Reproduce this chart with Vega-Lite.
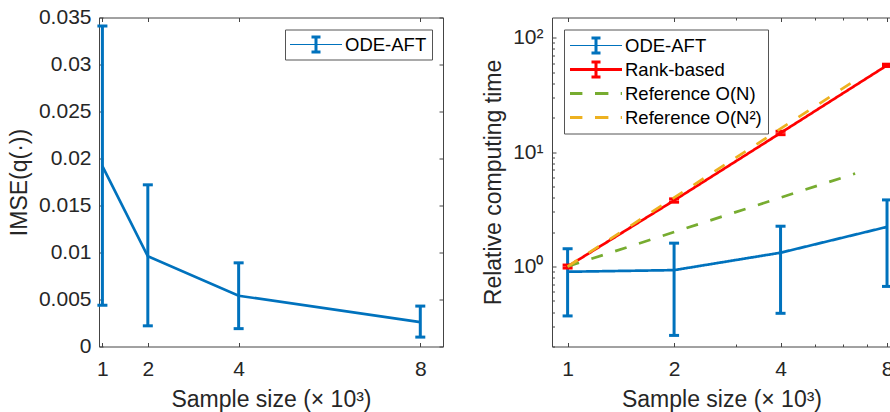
{
  "$schema": "https://vega.github.io/schema/vega-lite/v6.json",
  "padding": {"left": 8, "top": 6.5, "right": 0, "bottom": 0},
  "background": "white",
  "datasets": {
    "imse": [
      {"n": 1, "m": 0.0192, "lo": 0.0044, "hi": 0.0341, "s": "ODE-AFT"},
      {"n": 2, "m": 0.0096, "lo": 0.0022, "hi": 0.0172, "s": "ODE-AFT"},
      {"n": 4, "m": 0.0054, "lo": 0.0019, "hi": 0.0089, "s": "ODE-AFT"},
      {"n": 8, "m": 0.0026, "lo": 0.0010, "hi": 0.0043, "s": "ODE-AFT"}
    ],
    "timeErr": [
      {"n": 1, "s": "ODE-AFT", "lo": 0.37, "hi": 1.43},
      {"n": 2, "s": "ODE-AFT", "lo": 0.25, "hi": 1.60},
      {"n": 4, "s": "ODE-AFT", "lo": 0.39, "hi": 2.25},
      {"n": 8, "s": "ODE-AFT", "lo": 0.67, "hi": 3.82},
      {"n": 1, "s": "Rank-based", "lo": 0.97, "hi": 1.03},
      {"n": 2, "s": "Rank-based", "lo": 3.65, "hi": 3.9},
      {"n": 4, "s": "Rank-based", "lo": 14.2, "hi": 15.2},
      {"n": 8, "s": "Rank-based", "lo": 56.0, "hi": 58.6}
    ],
    "timeLines": [
      {"n": 1, "t": 0.90, "s": "ODE-AFT"},
      {"n": 2, "t": 0.93, "s": "ODE-AFT"},
      {"n": 4, "t": 1.32, "s": "ODE-AFT"},
      {"n": 8, "t": 2.22, "s": "ODE-AFT"},
      {"n": 1, "t": 1.0, "s": "Rank-based"},
      {"n": 2, "t": 3.78, "s": "Rank-based"},
      {"n": 4, "t": 14.7, "s": "Rank-based"},
      {"n": 8, "t": 57.3, "s": "Rank-based"},
      {"n": 1, "t": 1.0, "s": "Reference O(N)"},
      {"n": 6.5, "t": 6.5, "s": "Reference O(N)"},
      {"n": 1, "t": 1.0, "s": "Reference O(N²)"},
      {"n": 6.5, "t": 42.25, "s": "Reference O(N²)"}
    ]
  },
  "hconcat": [
    {
      "width": 344,
      "height": 329,
      "data": {"name": "imse"},
      "resolve": {"axis": {"x": "independent", "y": "independent"}},
      "layer": [
        {
          "mark": {"type": "rule", "color": "#0072BD", "strokeWidth": 3},
          "encoding": {
            "x": {"field": "n", "type": "quantitative",
                  "scale": {"domain": [0.925, 8.5], "nice": false, "zero": false},
                  "axis": {"orient": "bottom", "values": [1, 2, 4, 8], "title": "Sample size (× 10³)", "tickSize": -4, "labelPadding": 16, "titlePadding": 9}},
            "y": {"field": "lo", "type": "quantitative",
                  "scale": {"domain": [0, 0.035], "nice": false, "zero": false},
                  "axis": {"orient": "left", "values": [0, 0.005, 0.01, 0.015, 0.02, 0.025, 0.03, 0.035], "format": "~g", "title": "IMSE(q(·))", "tickSize": -4, "labelPadding": 12, "titlePadding": 7}},
            "y2": {"field": "hi"}
          }
        },
        {
          "mark": {"type": "tick", "orient": "horizontal", "color": "#0072BD", "size": 10, "thickness": 3, "opacity": 1},
          "encoding": {
            "x": {"field": "n", "type": "quantitative",
                  "axis": {"orient": "top", "values": [1, 2, 4, 8], "labels": false, "title": null, "tickSize": -4}},
            "y": {"field": "lo", "type": "quantitative",
                  "axis": {"orient": "right", "values": [0, 0.005, 0.01, 0.015, 0.02, 0.025, 0.03, 0.035], "labels": false, "title": null, "tickSize": -4}}
          }
        },
        {
          "mark": {"type": "tick", "orient": "horizontal", "color": "#0072BD", "size": 10, "thickness": 3, "opacity": 1},
          "encoding": {
            "x": {"field": "n", "type": "quantitative", "axis": null},
            "y": {"field": "hi", "type": "quantitative", "axis": null}
          }
        },
        {
          "mark": {"type": "line", "strokeWidth": 2.7},
          "encoding": {
            "x": {"field": "n", "type": "quantitative", "axis": null},
            "y": {"field": "m", "type": "quantitative", "axis": null},
            "color": {"field": "s", "type": "nominal",
                      "scale": {"domain": ["ODE-AFT"], "range": ["#0072BD"]},
                      "legend": {
                        "orient": "top-right", "offset": 11.5, "title": null,
                        "padding": 5, "symbolSize": 400, "symbolStrokeWidth": 0, "labelOffset": 35,
                        "labelFontSize": 18.5, "labelColor": "#000000", "labelFont": "Liberation Sans",
                        "strokeColor": "#555555", "fillColor": "#ffffff",
                        "encode": {"symbols": {"update": {
                          "shape": {"value": "M-1,-0.06H4.2V0.06H-1Z M1.15,-0.9H2.05V-0.6H1.75V0.6H2.05V0.9H1.15V0.6H1.45V-0.6H1.15Z"},
                          "fill": {"value": "#0072BD"},
                          "stroke": {"value": "transparent"},
                          "strokeWidth": {"value": 0},
                          "size": {"value": 400},
                          "opacity": {"value": 1}
                        }}}
                      }}
          }
        }
      ]
    },
    {
      "width": 339,
      "height": 329,
      "resolve": {"axis": {"x": "independent", "y": "independent"}},
      "layer": [
        {
          "data": {"name": "timeErr"},
          "transform": [{"filter": "datum.s == 'ODE-AFT'"}],
          "mark": {"type": "rule", "color": "#0072BD", "strokeWidth": 3},
          "encoding": {
            "x": {"field": "n", "type": "quantitative",
                  "scale": {"type": "log", "domain": [0.9034, 8.21], "nice": false},
                  "axis": {"orient": "bottom", "values": [1, 2, 4, 8], "title": "Sample size (× 10³)", "tickSize": -4, "labelPadding": 16, "titlePadding": 9}},
            "y": {"field": "lo", "type": "quantitative",
                  "scale": {"type": "log", "domain": [0.2, 150], "nice": false},
                  "axis": {"orient": "left", "values": [1, 10, 100], "labelExpr": "datum.value == 1 ? '10⁰' : datum.value == 10 ? '10¹' : '10²'", "title": "Relative computing time", "tickSize": -4, "labelPadding": 13, "titlePadding": 7}},
            "y2": {"field": "hi"}
          }
        },
        {
          "data": {"name": "timeErr"},
          "transform": [{"filter": "datum.s == 'ODE-AFT'"}],
          "mark": {"type": "tick", "orient": "horizontal", "color": "#0072BD", "size": 10, "thickness": 3, "opacity": 1},
          "encoding": {
            "x": {"field": "n", "type": "quantitative",
                  "axis": {"orient": "bottom", "values": [3, 5, 6, 7], "labels": false, "domain": false, "title": null, "tickSize": -2.5}},
            "y": {"field": "lo", "type": "quantitative",
                  "axis": {"orient": "left", "values": [0.2, 0.3, 0.4, 0.5, 0.6, 0.7, 0.8, 0.9, 2, 3, 4, 5, 6, 7, 8, 9, 20, 30, 40, 50, 60, 70, 80, 90], "labels": false, "domain": false, "title": null, "tickSize": -2.5}}
          }
        },
        {
          "data": {"name": "timeErr"},
          "transform": [{"filter": "datum.s == 'ODE-AFT'"}],
          "mark": {"type": "tick", "orient": "horizontal", "color": "#0072BD", "size": 10, "thickness": 3, "opacity": 1},
          "encoding": {
            "x": {"field": "n", "type": "quantitative",
                  "axis": {"orient": "top", "values": [1, 2, 4, 8], "labels": false, "title": null, "tickSize": -4}},
            "y": {"field": "hi", "type": "quantitative", "axis": null}
          }
        },
        {
          "data": {"name": "timeErr"},
          "transform": [{"filter": "datum.s == 'Rank-based'"}],
          "mark": {"type": "rule", "color": "#FF0000", "strokeWidth": 3},
          "encoding": {
            "x": {"field": "n", "type": "quantitative",
                  "axis": {"orient": "top", "values": [3, 5, 6, 7], "labels": false, "domain": false, "title": null, "tickSize": -2.5}},
            "y": {"field": "lo", "type": "quantitative", "axis": null},
            "y2": {"field": "hi"}
          }
        },
        {
          "data": {"name": "timeErr"},
          "transform": [{"filter": "datum.s == 'Rank-based'"}],
          "mark": {"type": "tick", "orient": "horizontal", "color": "#FF0000", "size": 10, "thickness": 3, "opacity": 1},
          "encoding": {
            "x": {"field": "n", "type": "quantitative", "axis": null},
            "y": {"field": "lo", "type": "quantitative", "axis": null}
          }
        },
        {
          "data": {"name": "timeErr"},
          "transform": [{"filter": "datum.s == 'Rank-based'"}],
          "mark": {"type": "tick", "orient": "horizontal", "color": "#FF0000", "size": 10, "thickness": 3, "opacity": 1},
          "encoding": {
            "x": {"field": "n", "type": "quantitative", "axis": null},
            "y": {"field": "hi", "type": "quantitative", "axis": null}
          }
        },
        {
          "data": {"name": "timeLines"},
          "mark": {"type": "line", "strokeWidth": 2.7},
          "encoding": {
            "x": {"field": "n", "type": "quantitative", "axis": null},
            "y": {"field": "t", "type": "quantitative", "axis": null},
            "strokeDash": {"field": "s", "type": "nominal", "legend": null,
                           "scale": {"domain": ["ODE-AFT", "Rank-based", "Reference O(N)", "Reference O(N²)"], "range": [[1, 0], [1, 0], [12, 13], [12, 13]]}},
            "color": {"field": "s", "type": "nominal",
                      "scale": {"domain": ["ODE-AFT", "Rank-based", "Reference O(N)", "Reference O(N²)"], "range": ["#0072BD", "#FF0000", "#77AC30", "#EDB120"]},
                      "legend": {
                        "orient": "top-left", "offset": 11.5, "title": null,
                        "padding": 6, "rowPadding": 4, "symbolSize": 400, "symbolStrokeWidth": 0, "labelOffset": 35,
                        "labelFontSize": 18.5, "labelColor": "#000000", "labelFont": "Liberation Sans",
                        "strokeColor": "#555555", "fillColor": "#ffffff",
                        "encode": {"symbols": {"update": {
                          "shape": {"signal": "datum.value == 'ODE-AFT' ? 'M-1,-0.06H4.2V0.06H-1Z M1.15,-0.9H2.05V-0.6H1.75V0.6H2.05V0.9H1.15V0.6H1.45V-0.6H1.15Z' : datum.value == 'Rank-based' ? 'M-1,-0.14H4.2V0.14H-1Z M1.15,-0.9H2.05V-0.6H1.75V0.6H2.05V0.9H1.15V0.6H1.45V-0.6H1.15Z' : 'M-1,-0.14H0.24V0.14H-1Z M1.5,-0.14H2.84V0.14H1.5Z M4.07,-0.14H4.2V0.14H4.07Z'"},
                          "fill": {"signal": "datum.value == 'ODE-AFT' ? '#0072BD' : datum.value == 'Rank-based' ? '#FF0000' : datum.value == 'Reference O(N)' ? '#77AC30' : '#EDB120'"},
                          "stroke": {"value": "transparent"},
                          "strokeWidth": {"value": 0},
                          "strokeDash": {"value": [1, 0]},
                          "size": {"value": 400},
                          "opacity": {"value": 1}
                        }}}
                      }}
          }
        }
      ]
    }
  ],
  "spacing": 109,
  "bounds": "flush",
  "resolve": {"scale": {"color": "independent", "strokeDash": "independent"}, "legend": {"color": "independent"}},
  "config": {
    "view": {"stroke": null},
    "font": "Liberation Sans",
    "axis": {
      "grid": false,
      "labelFont": "Liberation Sans", "labelFontSize": 21, "labelColor": "#262626",
      "titleFont": "Liberation Sans", "titleFontSize": 23, "titleFontWeight": "normal", "titleColor": "#262626",
      "domainColor": "#444444", "domainWidth": 1, "tickColor": "#444444", "tickWidth": 1,
      "labelOverlap": false, "labelFlush": false
    }
  }
}
